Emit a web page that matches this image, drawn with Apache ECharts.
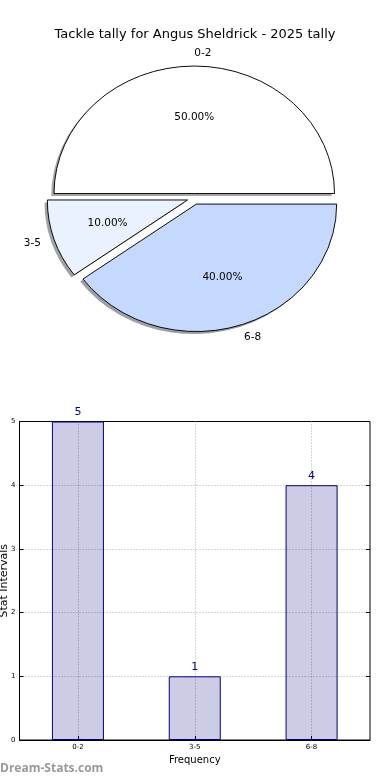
<!DOCTYPE html>
<html><head><meta charset="utf-8">
<script src="https://cdn.jsdelivr.net/npm/echarts@6/dist/echarts.min.js"></script>
<style>html,body{margin:0;padding:0;background:#fff}#c{width:390px;height:780px}</style>
</head><body><div id="c"></div>
<script>
// ---- data ----
const titleText = 'Tackle tally for Angus Sheldrick - 2025 tally';
const categories = ['0-2', '3-5', '6-8'];
const counts = [5, 1, 4];
const sliceColors = ['#ffffff', '#eaf1ff', '#c5d9ff'];
const explode = [0.035, 0.05, 0.05];
const yTickLabels = ['0', '1', '2', '3', '4', '5'];
const xAxisName = 'Frequency';
const yAxisName = 'Stat Intervals';
const watermark = 'Dream-Stats.com';

// ---- pie geometry (elliptical, like the source) ----
const PIE = { cx: 194.25, cy: 198, rx: 140.25, ry: 127.5 };
const FONT = 'DejaVu Sans';

function shadowOf(hex) {
  const r = parseInt(hex.slice(1, 3), 16), g = parseInt(hex.slice(3, 5), 16), b = parseInt(hex.slice(5, 7), 16);
  return 'rgba(' + Math.round(r * 0.3) + ',' + Math.round(g * 0.3) + ',' + Math.round(b * 0.3) + ',0.5)';
}

function renderPie(params, api) {
  const i = params.dataIndex;
  const v = api.value(0);
  const total = counts.reduce((a, b) => a + b, 0);
  let start = 0;
  for (let k = 0; k < i; k++) start += counts[k];
  const a1 = start / total * 2 * Math.PI;
  const a2 = (start + v) / total * 2 * Math.PI;
  const mid = (a1 + a2) / 2;
  const c = Math.cos(mid), s = Math.sin(mid);
  const ox = PIE.cx + explode[i] * PIE.rx * c;
  const oy = PIE.cy - explode[i] * PIE.ry * s;
  const shape = { cx: 0, cy: 0, r: PIE.rx, r0: 0, startAngle: -a1, endAngle: -a2, clockwise: false };
  const sy = PIE.ry / PIE.rx;
  const pct = (v / total * 100).toFixed(2) + '%';
  return {
    type: 'group',
    children: [
      { type: 'sector', x: ox - 0.02 * PIE.rx, y: oy + 0.02 * PIE.ry, scaleY: sy, shape: shape, z2: 0, silent: true,
        style: { fill: shadowOf(sliceColors[i]) } },
      { type: 'sector', x: ox, y: oy, scaleY: sy, shape: shape, z2: 10,
        style: { fill: sliceColors[i], stroke: '#000', lineWidth: 1, strokeNoScale: true } },
      { type: 'text', x: ox + 0.6 * PIE.rx * c, y: oy - 0.6 * PIE.ry * s, z2: 20,
        style: { text: pct, align: 'center', verticalAlign: 'middle', fill: '#000', font: '10.5px "' + FONT + '"' } },
      { type: 'text', x: ox + 1.1 * PIE.rx * c, y: oy - 1.1 * PIE.ry * s, z2: 20,
        style: { text: categories[i], align: c > 0 ? 'left' : 'right', verticalAlign: 'middle', fill: '#000', font: '10.5px "' + FONT + '"' } }
    ]
  };
}

const chart = echarts.init(document.getElementById('c'), null, { renderer: 'canvas' });
const dotted = { color: '#aaaaaa', width: 1, type: [1, 2] };
chart.setOption({
  animation: false,
  backgroundColor: '#fff',
  textStyle: { fontFamily: FONT },
  title: {
    text: titleText, left: 'center', top: 23,
    textStyle: { fontSize: 13, fontWeight: 'normal', color: '#000', fontFamily: FONT }
  },
  grid: { left: 19.5, top: 421.5, width: 350.5, height: 318.5, show: true, borderColor: '#000', borderWidth: 1,
    backgroundColor: 'transparent', containLabel: false, outerBoundsMode: 'none' },
  xAxis: {
    type: 'category', data: categories, boundaryGap: true,
    name: xAxisName, nameLocation: 'middle', nameGap: 15, nameMoveOverlap: false,
    nameTextStyle: { fontSize: 10, color: '#000', fontFamily: FONT },
    axisLine: { show: true, lineStyle: { color: '#000', width: 1 } },
    axisTick: { show: true, inside: true, alignWithLabel: true, length: 4, lineStyle: { color: '#000' } },
    axisLabel: { fontSize: 7, color: '#000', margin: 4, fontFamily: FONT },
    splitLine: { show: true, alignWithLabel: true, lineStyle: dotted }
  },
  yAxis: [{
    type: 'value', min: 0, max: 5, interval: 1,
    name: yAxisName, nameLocation: 'middle', nameGap: 10, nameMoveOverlap: false,
    nameTextStyle: { fontSize: 11, color: '#000', fontFamily: FONT },
    axisLine: { show: true, lineStyle: { color: '#000', width: 1 } },
    axisTick: { show: true, inside: true, length: 4, lineStyle: { color: '#000' } },
    axisLabel: { fontSize: 7, color: '#000', margin: 4, fontFamily: FONT, formatter: (v) => yTickLabels[v] },
    splitLine: { show: true, showMinLine: false, showMaxLine: false, lineStyle: dotted }
  }, {
    type: 'value', min: 0, max: 5, interval: 1, position: 'right',
    axisLine: { show: false },
    axisTick: { show: true, inside: true, length: 4, lineStyle: { color: '#000' } },
    axisLabel: { show: false }, splitLine: { show: false }
  }],
  series: [{
    type: 'bar', data: counts, barWidth: 52, yAxisIndex: 0,
    itemStyle: { color: 'rgba(0,0,128,0.2)', borderColor: '#000080', borderWidth: 1 },
    label: { show: true, position: 'top', distance: 4, color: '#00008b', fontSize: 11, fontFamily: FONT }
  }, {
    type: 'custom', coordinateSystem: 'none', renderItem: renderPie,
    data: counts.map((v) => [v]), silent: true
  }],
  graphic: [{
    type: 'text', left: 0, top: 763,
    style: { text: watermark, fill: '#999999', font: 'bold 12px "Open Sans"' }
  }]
});
</script>
</body></html>
